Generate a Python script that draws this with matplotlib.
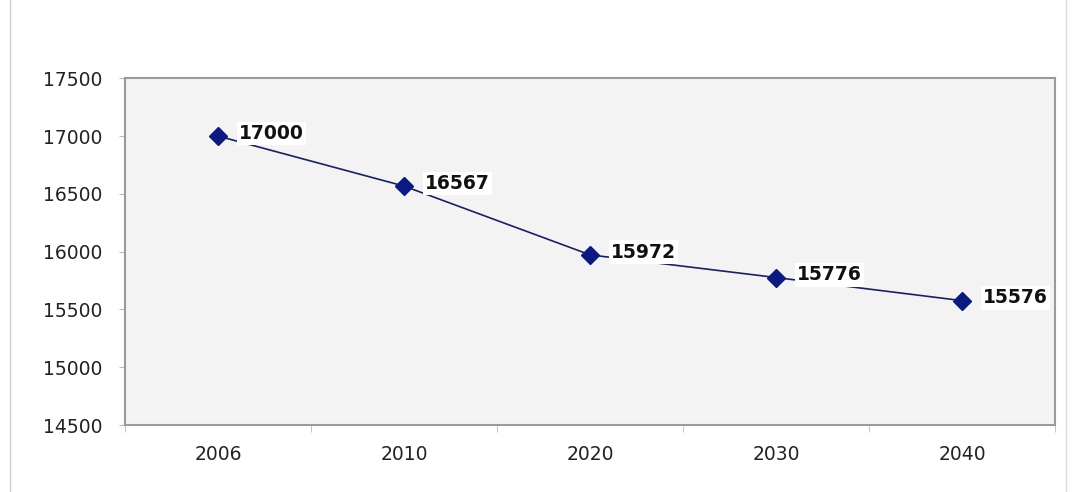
import numpy as np
import matplotlib.pyplot as plt
from matplotlib.lines import Line2D

years = ['2006', '2010', '2020', '2030', '2040']
values = [17000, 16567, 15972, 15776, 15576]
y_ticks = [14500, 15000, 15500, 16000, 16500, 17000, 17500]

plt.rcParams['font.family'] = ['DejaVu Sans']

fig = plt.figure(figsize=(10.77, 4.92), dpi=100)
fig.patch.set_facecolor('white')
ax = fig.add_axes([0.116, 0.136, 0.864, 0.705])
ax.set_facecolor('#f3f3f3')

x = np.arange(len(years))
ax.plot(x, values, color='#1a2060', linewidth=1.2, zorder=2)
ax.plot(x, values, linestyle='none', marker='D', markersize=9,
        color='#0b1a80', zorder=3)

for xi, v in zip(x, values):
    ax.annotate(str(v), (xi, v), xytext=(15, 2), textcoords='offset points',
                ha='left', va='center', fontsize=13.5, fontweight='bold',
                color='#111111', zorder=4,
                bbox=dict(boxstyle='square,pad=0.12', fc='white', ec='none'))

ax.set_xlim(-0.5, len(years) - 0.5)
ax.set_ylim(14500, 17500)
ax.set_yticks(y_ticks)
ax.set_xticks(x)
ax.set_xticklabels(years)
ax.set_xticks(np.arange(-0.5, len(years), 1.0), minor=True)
ax.tick_params(axis='x', which='major', length=0, pad=14, labelsize=13.5,
               labelcolor='#222222')
ax.tick_params(axis='x', which='minor', length=5, color='#bbbbbb',
               direction='out')
ax.tick_params(axis='y', length=4, color='#bbbbbb', pad=12, labelsize=13.5,
               labelcolor='#222222')

for side in ['top', 'right', 'bottom', 'left']:
    ax.spines[side].set_color('#9a9a9a')
    ax.spines[side].set_linewidth(1.5)

# outer frame lines at left and right
fig.add_artist(Line2D([10 / 1077, 10 / 1077], [0, 1], transform=fig.transFigure,
                      color='#cccccc', linewidth=1))
fig.add_artist(Line2D([1066 / 1077, 1066 / 1077], [0, 1], transform=fig.transFigure,
                      color='#dddddd', linewidth=1))

fig.savefig('out.png', dpi=100)
